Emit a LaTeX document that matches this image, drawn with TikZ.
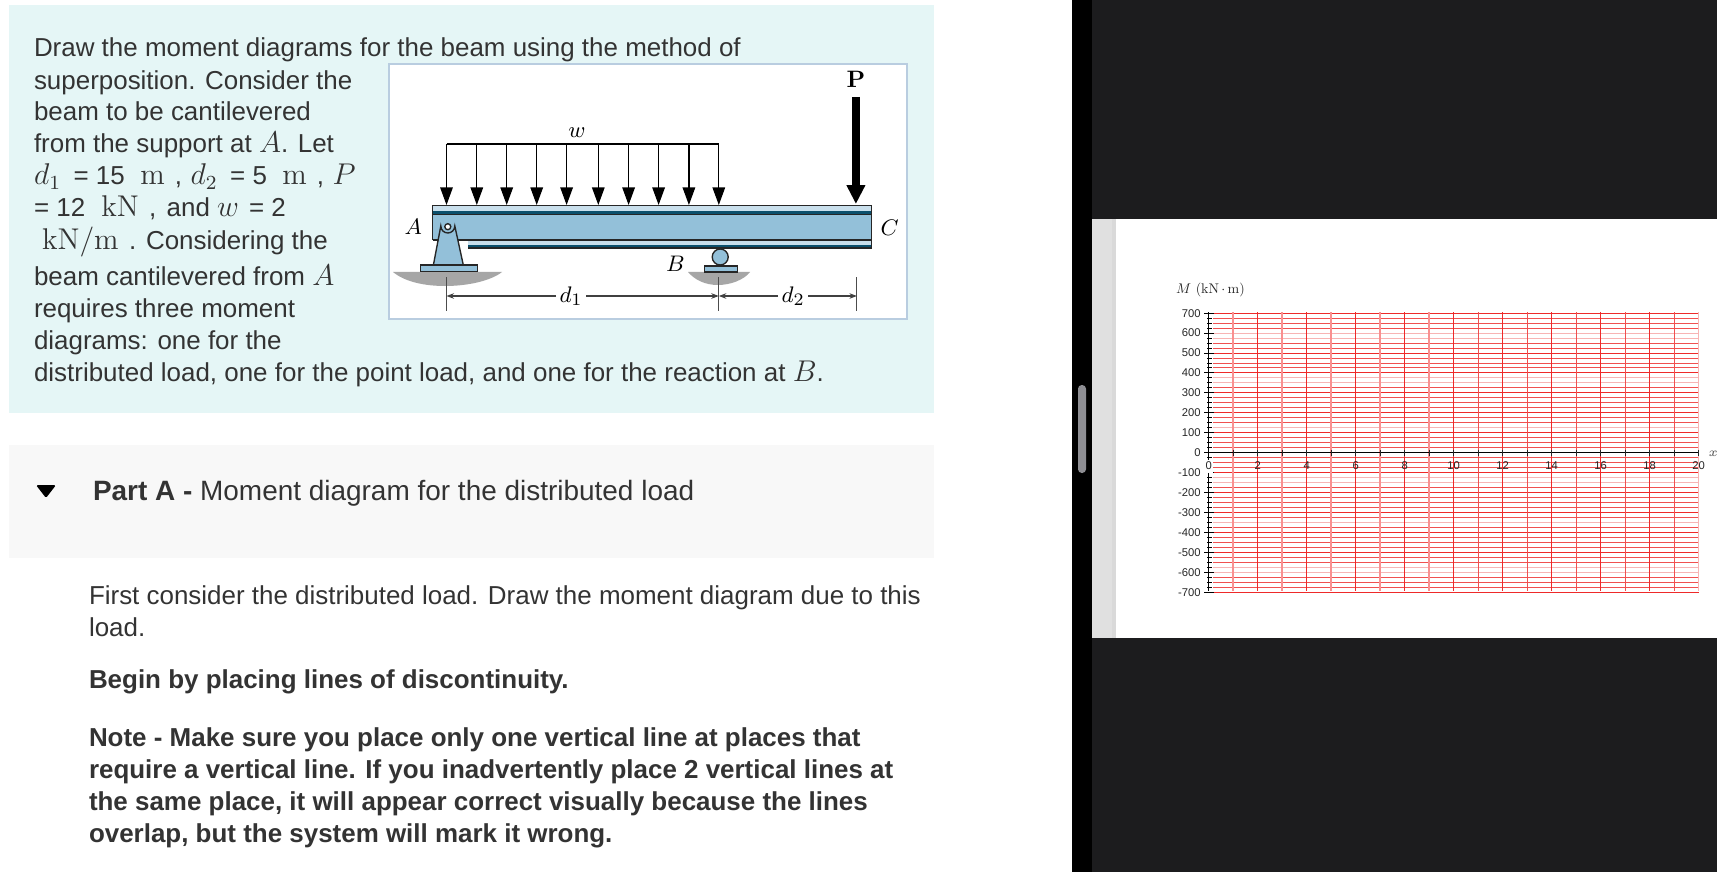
\documentclass[tikz,border=0pt]{standalone}
\usepackage{fontspec}
\setsansfont{Liberation Sans}
\usetikzlibrary{arrows.meta}
\definecolor{panelblue}{HTML}{E5F6F6}
\definecolor{panelgray}{HTML}{F8F8F8}
\definecolor{inktext}{HTML}{333333}
\definecolor{darkbar}{HTML}{1C1C1E}
\definecolor{beamblue}{HTML}{93C0D9}
\definecolor{beamdark}{HTML}{0B4F6C}
\definecolor{frameblue}{HTML}{B9CDE0}
\definecolor{gridmain}{HTML}{EE2A2A}
\definecolor{gridpale}{HTML}{F8B4B4}
\definecolor{gridminor}{HTML}{F05050}
\definecolor{scrollgray}{HTML}{8E8E93}
\newcommand{\M}[1]{{\fontsize{12}{12}\selectfont$#1$}}
\tikzset{
  x=0.4pt,y=-0.4pt,
  txt/.style={anchor=base west,inner sep=0pt,outer sep=0pt,text=inktext,font=\sffamily\fontsize{10.38}{12.8}\selectfont},
  btxt/.style={txt,font=\sffamily\bfseries\fontsize{10.38}{12.8}\selectfont},
  beamlabel/.style={inner sep=0pt,text=black,font=\fontsize{9.5}{10}\selectfont},
  loadarrow/.style={draw=black,line width=0.5pt,-{Triangle[width=5pt,length=7pt]}},
  bigarrow/.style={draw=black,line width=3.2pt,-{Triangle[width=7pt,length=7.5pt]}},
  dimarrow/.style={draw=black!75,line width=0.45pt,-{Stealth[width=2.2pt,length=3pt]}},
  outline/.style={draw=black!85,line width=0.55pt},
  ylab/.style={anchor=east,inner sep=0pt,text=black!85,font=\sffamily\fontsize{4.5}{5}\selectfont},
  xlab/.style={anchor=center,inner sep=0pt,text=black!85,font=\sffamily\fontsize{4.5}{5}\selectfont},
}
\begin{document}
\begin{tikzpicture}
\useasboundingbox (0,0) rectangle (1717,872);
\fill[white] (0,0) rectangle (1717,872);
% left panels
\fill[panelblue] (9,5) rectangle (934,413);
\fill[panelgray] (9,445) rectangle (934,558);
% right side
\fill[black] (1072,0) rectangle (1092,872);
\fill[darkbar] (1092,0) rectangle (1717,872);
\fill[white] (1092,219) rectangle (1717,638);
\fill[black!12] (1092,219) rectangle (1116,638);
\fill[black!15] (1112,219) rectangle (1116,638);
\fill[scrollgray,rounded corners=1.5pt] (1078,385) rectangle (1086,473);
% text
\node[txt] (l1) at (34,57) {Draw the moment diagrams for the beam using the method of};
\node[txt] (l2) at (34,89.5) {superposition. Consider the};
\node[txt] (l3) at (34,121) {beam to be cantilevered};
\node[txt] (l4) at (34,153) {from the support at \M{A}. Let};
\node[txt] (l5) at (34,185) {\M{d_1}\hspace{5pt}= 15\hspace{6.2pt}\M{\mathrm{m}}\hspace{4pt},\hspace{3.4pt}\M{d_2}\hspace{5pt}= 5\hspace{6.2pt}\M{\mathrm{m}}\hspace{4pt},\hspace{3.4pt}\M{P}};
\node[txt] (l6) at (34,216.7) {= 12\hspace{6.5pt}\M{\mathrm{kN}}\hspace{4pt},\hspace{4.2pt}and \M{w}\hspace{4pt}= 2};
\node[txt] (l7) at (42,249) {\M{\mathrm{kN/m}}\hspace{4.2pt}. Considering the};
\node[txt] (l8) at (34,285) {beam cantilevered from \M{A}};
\node[txt] (l9) at (34,317.5) {requires three moment};
\node[txt] (l10) at (34,349) {diagrams: one for the};
\node[txt] (l11) at (34,381) {distributed load, one for the point load, and one for the reaction at \M{B}.};
\fill[black,rounded corners=0.6pt] (36,485) -- (56,485) -- (46,498) -- cycle;
\node[txt,font=\sffamily\fontsize{11.18}{13}\selectfont] (parta) at (93,500) {\textbf{Part A -} Moment diagram for the distributed load};
\node[txt] (f1) at (89,604) {First consider the distributed load. Draw the moment diagram due to this};
\node[txt] (f2) at (89,636) {load.};
\node[btxt] (b1) at (89,688.5) {Begin by placing lines of discontinuity.};
\node[btxt] (n1) at (89,746) {Note - Make sure you place only one vertical line at places that};
\node[btxt] (n2) at (89,778.5) {require a vertical line. If you inadvertently place 2 vertical lines at};
\node[btxt] (n3) at (89,810.5) {the same place, it will appear correct visually because the lines};
\node[btxt] (n4) at (89,842) {overlap, but the system will mark it wrong.};
% beam figure
\draw[frameblue,fill=white,line width=0.7pt] (389.3,64) rectangle (907,319);
% ground
\fill[black!35] (393,272) -- (502,272) .. controls (492,280) and (470,286) .. (445,286) .. controls (425,286) and (405,282) .. (393,272) -- cycle;
\fill[black!35] (688,272) -- (750,272) .. controls (744,280) and (730,285) .. (718,285) .. controls (705,285) and (695,280) .. (688,272) -- cycle;
% beam
\fill[beamblue] (432.7,215) rectangle (871.4,240);
\fill[beamblue!50!white] (432.7,205) rectangle (871.4,215);
\fill[beamblue!50!white] (467.8,240) rectangle (871.4,248);
\fill[beamdark] (432.7,211) rectangle (871.4,215);
\fill[beamdark] (467.8,245) rectangle (871.4,248);
\draw[outline] (432.7,240) -- (432.7,205.5) -- (871.4,205.5) -- (871.4,248) -- (467.8,248);
\draw[outline] (432.7,214.5) -- (871.4,214.5);
\draw[outline] (432.7,240) -- (871.4,240);
% support A
\draw[outline,fill=beamblue] (433.4,265) -- (440.8,226) arc (180:0:7) -- (463.3,265) -- cycle;
\draw[outline,fill=white] (447.8,226.7) circle (3);
\draw[outline,fill=beamblue] (420.6,265) rectangle (477.5,271.5);
% support B
\draw[outline,fill=beamblue] (720.2,257) circle (8);
\draw[outline,fill=beamblue] (704.4,266) rectangle (737.4,272);
% distributed load
\coordinate (q0) at (446.5,144);
\coordinate (q9) at (718.8,144);
\draw[black,line width=0.5pt] (q0) -- (q9);
\foreach \n/\xx in {0/446.5,1/476.8,2/506.7,3/536.7,4/566.6,5/598.3,6/628.6,7/658.6,8/688.9,9/718.8}{
  \coordinate (s\n) at (\xx,144);
  \coordinate (e\n) at (\xx,205);
  \draw[loadarrow] (s\n) -- (e\n);
}
% point load
\coordinate (ps) at (855.9,97);
\coordinate (pe) at (855.9,204);
\draw[bigarrow] (ps) -- (pe);
% labels
\node[beamlabel,font=\bfseries\fontsize{9.5}{10}\selectfont] (P) at (855.9,79) {P};
\node[beamlabel] (W) at (577,133) {$w$};
\node[beamlabel] (A) at (413.4,227) {$A$};
\node[beamlabel] (C) at (889.6,228) {$C$};
\node[beamlabel] (B) at (675.5,264) {$B$};
% dimensions
\coordinate (t1) at (446.5,296);
\coordinate (t2) at (718.8,296);
\coordinate (t3) at (856.9,296);
\draw[black!70,line width=0.4pt] (446.5,277) -- (446.5,311);
\draw[black!70,line width=0.4pt] (718.8,277) -- (718.8,311);
\draw[black!70,line width=0.4pt] (856.9,277) -- (856.9,311);
\node[beamlabel,inner sep=1.2pt] (d1) at (571.1,296) {$d_1$};
\node[beamlabel,inner sep=1.2pt] (d2) at (793.2,296) {$d_2$};
\draw[dimarrow] (d1) -- (t1);
\draw[dimarrow] (d1) -- (t2);
\draw[dimarrow] (d2) -- (t2);
\draw[dimarrow] (d2) -- (t3);
% graph grid
\foreach \i in {-28,...,28}{
  \pgfmathtruncatemacro{\v}{\i*25}
  \pgfmathsetmacro{\yy}{floor(452.7-\v*0.1993)+0.5}
  \pgfmathtruncatemacro{\mj}{mod(abs(\i),4)==0 ? 1 : 0}
  \ifnum\mj=1
    \draw[gridmain,line width=0.42pt] (1213,\yy) -- (1698.5,\yy);
  \else
    \draw[gridminor,line width=0.36pt] (1213,\yy) -- (1698.5,\yy);
  \fi
}
\foreach \v in {600,575,375,350,125,-125,-150,-350,-575,-600}{
  \pgfmathsetmacro{\yy}{floor(452.7-\v*0.1993)+0.5}
  \draw[gridpale,line width=0.7pt] (1213,\yy) -- (1698.5,\yy);
}
\foreach \i in {2,4,...,20}{
  \draw[gridmain,line width=0.42pt] ({1208.7+24.5*\i},312.2) -- ({1208.7+24.5*\i},591.3);
}
\foreach \i in {1,3,5,7,9}{
  \draw[gridpale!80!red,line width=0.8pt] ({1208.7+24.5*\i},312.2) -- ({1208.7+24.5*\i},591.3);
}
\foreach \i in {11,13,...,19}{
  \draw[gridminor,line width=0.42pt] ({1208.7+24.5*\i},312.2) -- ({1208.7+24.5*\i},591.3);
}
\draw[gridpale,line width=0.7pt] (1698.5,312.2) -- (1698.5,591.3);
% axes
\draw[black,line width=0.45pt] (1208.7,312.2) -- (1208.7,591.3);
\foreach \i in {-28,...,28}{
  \pgfmathsetmacro{\yy}{floor(452.7-\i*25*0.1993)+0.5}
  \pgfmathtruncatemacro{\mj}{mod(abs(\i),4)==0 ? 1 : 0}
  \ifnum\mj=1
    \draw[black,line width=0.42pt] (1204,\yy) -- (1213.5,\yy);
  \else
    \draw[black,line width=0.42pt] (1207,\yy) -- (1212,\yy);
  \fi
}
\draw[black,line width=0.5pt] (1208.7,452.5) -- (1698.5,452.5);
\foreach \i in {1,...,20}{
  \draw[black!85,line width=0.42pt] ({1208.7+24.5*\i},449.5) -- ({1208.7+24.5*\i},456);
}
\fill[white] (1203,460) rectangle (1213,473);
\foreach \v in {700,600,500,400,300,200,100,0,-100,-200,-300,-400,-500,-600,-700}{
  \node[ylab] (y\v) at (1201,{452.7-\v*0.1993}) {\v};
}
\node[xlab] (x0) at (1208.7,466) {0};
\foreach \i in {2,4,...,20}{
  \node[xlab] (x\i) at ({1208.7+24.5*\i},466) {\i};
}
\node[anchor=base west,inner sep=0pt,text=black!85,scale=0.56,font=\fontsize{10}{12}\selectfont] (ylabel) at (1175.7,294) {$M$\ (kN$\,\cdot\,$m)};
\node[anchor=center,inner sep=0pt,text=black!70,font=\fontsize{4}{5}\selectfont] (xlabel) at (1713.3,454) {$x$};
\end{tikzpicture}
\end{document}
